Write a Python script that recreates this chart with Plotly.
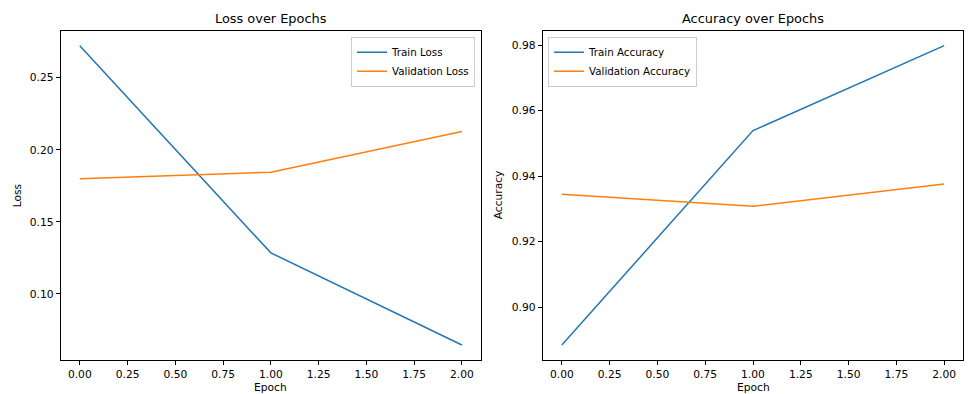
import plotly.graph_objects as go

epochs = [0, 1, 2]
train_loss = [0.2722, 0.1285, 0.0646]
val_loss = [0.1799, 0.1845, 0.2127]
train_acc = [0.8885, 0.9539, 0.9798]
val_acc = [0.9345, 0.9308, 0.9376]

W, H = 975, 394
BLUE = "#1f77b4"
ORANGE = "#ff7f0e"
FONT = "DejaVu Sans"
TICK = 10.7
TITLE = 12.9


def px_x(p):
    return p / W


def px_y(p):
    return 1 - p / H


fig = go.Figure()
fig.add_trace(go.Scatter(x=epochs, y=train_loss, mode="lines", name="Train Loss",
                         line=dict(color=BLUE, width=1.5), xaxis="x", yaxis="y", legend="legend"))
fig.add_trace(go.Scatter(x=epochs, y=val_loss, mode="lines", name="Validation Loss",
                         line=dict(color=ORANGE, width=1.5), xaxis="x", yaxis="y", legend="legend"))
fig.add_trace(go.Scatter(x=epochs, y=train_acc, mode="lines", name="Train Accuracy",
                         line=dict(color=BLUE, width=1.5), xaxis="x2", yaxis="y2", legend="legend2"))
fig.add_trace(go.Scatter(x=epochs, y=val_acc, mode="lines", name="Validation Accuracy",
                         line=dict(color=ORANGE, width=1.5), xaxis="x2", yaxis="y2", legend="legend2"))

L1, R1 = 60.7, 481.0
L2, R2 = 542.7, 963.3
TOP, BOT = 30.7, 360.0

axis_common = dict(showline=True, mirror=True, linecolor="black", linewidth=1,
                   ticks="outside", ticklen=4, tickwidth=1, tickcolor="black",
                   showgrid=False, zeroline=False, automargin=False,
                   tickfont=dict(family=FONT, size=TICK, color="black"))

fig.update_layout(
    width=W, height=H,
    margin=dict(l=0, r=0, t=0, b=0),
    paper_bgcolor="white", plot_bgcolor="white",
    font=dict(family=FONT, color="black"),
    xaxis=dict(domain=[px_x(L1), px_x(R1)], range=[-0.1, 2.1], tick0=0, dtick=0.25,
               tickformat=".2f", anchor="y", **axis_common),
    yaxis=dict(domain=[px_y(BOT), px_y(TOP)], range=[0.0542, 0.2826], tick0=0, dtick=0.05,
               tickformat=".2f", anchor="x", **axis_common),
    xaxis2=dict(domain=[px_x(L2), px_x(R2)], range=[-0.1, 2.1], tick0=0, dtick=0.25,
                tickformat=".2f", anchor="y2", **axis_common),
    yaxis2=dict(domain=[px_y(BOT), px_y(TOP)], range=[0.88393, 0.98437], tick0=0, dtick=0.02,
                tickformat=".2f", anchor="x2", **axis_common),
    legend=dict(x=px_x(475), y=px_y(36.7), xanchor="right", yanchor="top",
                bgcolor="rgba(255,255,255,0.8)", bordercolor="#cccccc", borderwidth=1,
                font=dict(family=FONT, size=10.3, color="black"), itemwidth=30,
                tracegroupgap=0),
    legend2=dict(x=px_x(548), y=px_y(36.7), xanchor="left", yanchor="top",
                 bgcolor="rgba(255,255,255,0.8)", bordercolor="#cccccc", borderwidth=1,
                 font=dict(family=FONT, size=10.3, color="black"), itemwidth=30,
                 tracegroupgap=0),
)

ann = []
ann.append(dict(text="Loss over Epochs", x=px_x((L1 + R1) / 2), y=px_y(18), xref="paper", yref="paper",
                showarrow=False, font=dict(family=FONT, size=TITLE, color="black"),
                xanchor="center", yanchor="middle"))
ann.append(dict(text="Accuracy over Epochs", x=px_x((L2 + R2) / 2), y=px_y(18), xref="paper", yref="paper",
                showarrow=False, font=dict(family=FONT, size=TITLE, color="black"),
                xanchor="center", yanchor="middle"))
for cx in [(L1 + R1) / 2, (L2 + R2) / 2]:
    ann.append(dict(text="Epoch", x=px_x(cx), y=px_y(387.5), xref="paper", yref="paper",
                    showarrow=False, font=dict(family=FONT, size=TICK, color="black"),
                    xanchor="center", yanchor="middle"))
ann.append(dict(text="Loss", x=px_x(17), y=px_y((TOP + BOT) / 2), xref="paper", yref="paper",
                showarrow=False, textangle=-90, font=dict(family=FONT, size=TICK, color="black"),
                xanchor="center", yanchor="middle"))
ann.append(dict(text="Accuracy", x=px_x(498), y=px_y((TOP + BOT) / 2), xref="paper", yref="paper",
                showarrow=False, textangle=-90, font=dict(family=FONT, size=TICK, color="black"),
                xanchor="center", yanchor="middle"))
fig.update_layout(annotations=ann)

fig.write_html(
    "out.html",
    config={"displayModeBar": False},
    post_script="document.body.style.margin='0';document.body.style.padding='0';document.body.style.overflow='hidden';",
)
